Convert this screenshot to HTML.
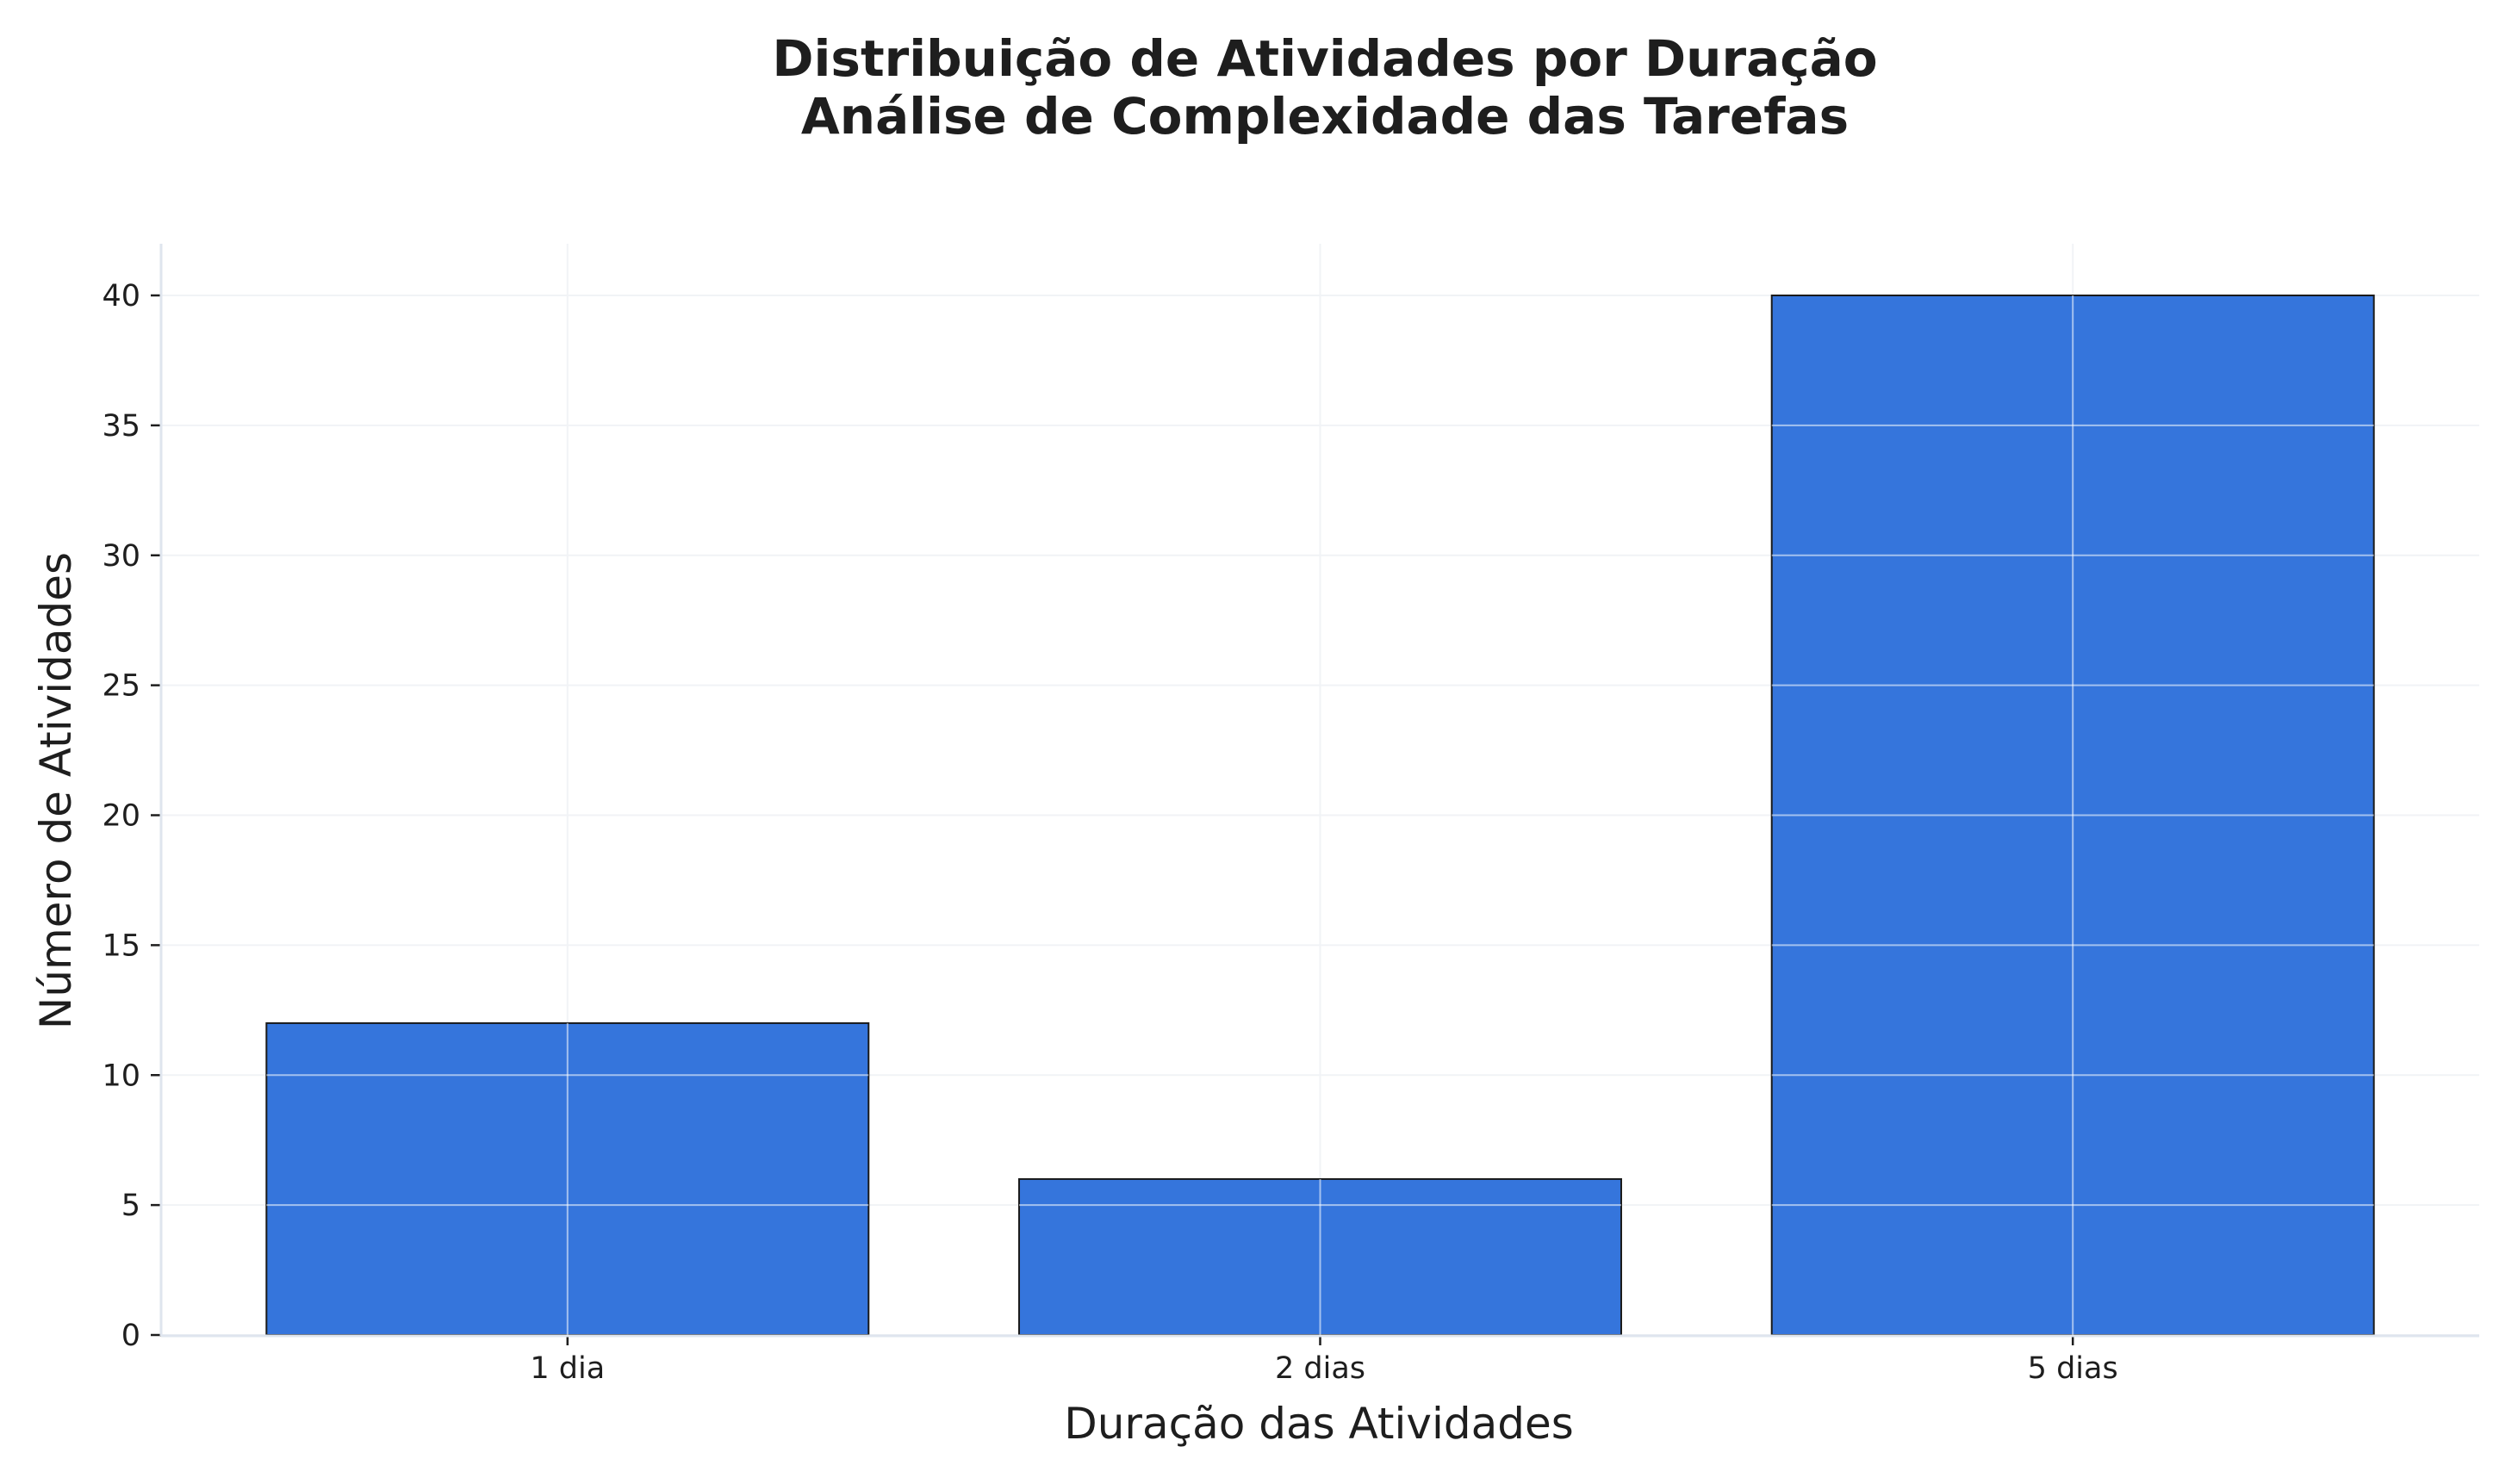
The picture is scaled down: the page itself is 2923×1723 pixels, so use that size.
<!DOCTYPE html>
<html><head><meta charset="utf-8"><style>
html,body{margin:0;padding:0;background:#fff;}
svg{display:block;font-family:"DejaVu Sans","Liberation Sans",sans-serif;}
</style></head><body>
<svg id="chart" width="2923" height="1723" viewBox="0 0 2923 1723" xmlns="http://www.w3.org/2000/svg">
<rect width="2923" height="1723" fill="#ffffff"/>
<text x="1538" y="88" text-anchor="middle" font-size="58" font-weight="bold" fill="#1e1e1e">Distribuição de Atividades por Duração</text>
<text x="1538" y="155" text-anchor="middle" font-size="58" font-weight="bold" fill="#1e1e1e">Análise de Complexidade das Tarefas</text>
<g id="grid"></g>
<g id="bars"></g>
<g id="overgrid"></g>
<g id="axes"></g>
<text x="1531" y="1670" text-anchor="middle" font-size="50" fill="#1e1e1e">Duração das Atividades</text>
<text transform="translate(82,918) rotate(-90)" text-anchor="middle" font-size="50" fill="#1e1e1e">Número de Atividades</text>
</svg>
<script>
const categories = ["1 dia", "2 dias", "5 dias"];
const values = [12, 6, 40];
const yTicks = [0, 5, 10, 15, 20, 25, 30, 35, 40];

const NS = "http://www.w3.org/2000/svg";
const L = 187, R = 2878, T = 283, B = 1550;
const xMin = -0.54, xMax = categories.length - 1 + 0.54;
const Y40 = 343;
function xs(v){ return L + (v - xMin) / (xMax - xMin) * (R - L); }
function ys(v){ return B - v / 40 * (B - Y40); }
function mk(tag, attrs, parent){
  const e = document.createElementNS(NS, tag);
  for (const k in attrs) e.setAttribute(k, attrs[k]);
  parent.appendChild(e);
  return e;
}
const grid = document.getElementById("grid");
const bars = document.getElementById("bars");
const over = document.getElementById("overgrid");
const axes = document.getElementById("axes");
const bw = 0.8;

yTicks.forEach(t => {
  const y = ys(t);
  const g = mk("line", {x1:L, x2:R, y1:y, y2:y, stroke:"#f1f3f6", "stroke-width":2}, grid);
  
  
  const tk = mk("line", {x1:L-12, x2:L, y1:y, y2:y, stroke:"#1e1e1e", "stroke-width":2.5}, axes);
  
  
  const lb = mk("text", {x:L-24, y:y+12, "text-anchor":"end", "font-size":35, fill:"#1e1e1e"}, axes);
  lb.textContent = t;
  
  
});
categories.forEach((c, i) => {
  const x = xs(i);
  const vg = mk("line", {x1:x, x2:x, y1:T, y2:B, stroke:"#f1f3f6", "stroke-width":2}, grid);
  
  
  const x0 = xs(i - bw/2), x1 = xs(i + bw/2), y = ys(values[i]);
  const r = mk("rect", {x:x0, y:y, width:x1-x0, height:B-y, fill:"#3575dc", stroke:"#1a1a1a", "stroke-width":2}, bars);
  
  
  yTicks.forEach(t => {
    if (t > 0 && t < values[i]) {
      const gl = mk("line", {x1:x0, x2:x1, y1:ys(t), y2:ys(t), stroke:"#ffffff", "stroke-opacity":0.55, "stroke-width":2}, over);
      
      
    }
  });
  const vl = mk("line", {x1:x, x2:x, y1:y, y2:B, stroke:"#ffffff", "stroke-opacity":0.55, "stroke-width":2}, over);
  
  
  const tk = mk("line", {x1:x, x2:x, y1:B, y2:B+12, stroke:"#1e1e1e", "stroke-width":2.5}, axes);
  
  
  const lb = mk("text", {x:x, y:B+50, "text-anchor":"middle", "font-size":35, fill:"#1e1e1e"}, axes);
  lb.textContent = c;
  
  
});
const sl = mk("line", {x1:L, x2:L, y1:T, y2:B+1, stroke:"#dfe5ee", "stroke-width":3}, axes);


const sb = mk("line", {x1:L, x2:R, y1:B+1, y2:B+1, stroke:"#dfe5ee", "stroke-width":3}, axes);


</script>
</body></html>
